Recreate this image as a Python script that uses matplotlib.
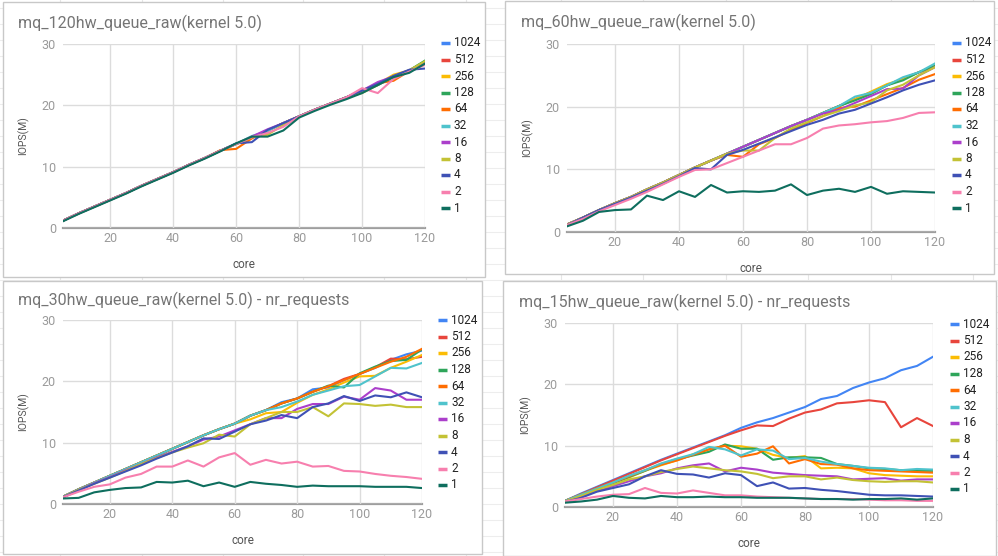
import matplotlib
matplotlib.use("Agg")
import matplotlib.pyplot as plt
from matplotlib.lines import Line2D
from matplotlib.patches import Rectangle

plt.rcParams["font.family"] = ["Roboto", "DejaVu Sans"]

# ── Data ───────────────────────────────────────────────────────────────────
CORES = [5, 10, 15, 20, 25, 30, 35, 40, 45, 50, 55, 60,
         65, 70, 75, 80, 85, 90, 95, 100, 105, 110, 115, 120]
NR_REQUESTS = ["1024", "512", "256", "128", "64", "32", "16", "8", "4", "2", "1"]

# mq_120hw_queue_raw
hw120_1024 = [1.2, 2.4, 3.5, 4.6, 5.7, 6.9, 8.0, 9.1, 10.3, 11.4, 12.6, 13.7, 14.8, 15.9, 17.1, 18.2, 19.3, 20.3, 21.3, 22.4, 23.3, 24.7, 25.7, 26.8]
hw120_512  = [1.2, 2.4, 3.5, 4.6, 5.7, 6.9, 8.0, 9.1, 10.3, 11.4, 12.6, 13.7, 14.8, 15.9, 17.1, 18.2, 19.3, 20.3, 21.3, 22.4, 23.5, 24.7, 25.7, 27.0]
hw120_256  = [1.2, 2.4, 3.5, 4.6, 5.7, 6.9, 8.0, 9.1, 10.3, 11.4, 12.6, 13.7, 14.8, 15.9, 17.1, 18.2, 19.3, 20.3, 21.3, 22.4, 23.5, 25.0, 25.7, 27.2]
hw120_128  = [1.2, 2.4, 3.5, 4.6, 5.7, 6.9, 8.0, 9.1, 10.3, 11.4, 12.6, 13.7, 14.8, 15.9, 17.1, 18.2, 19.3, 20.3, 21.3, 22.4, 23.5, 24.7, 25.7, 27.3]
hw120_64   = [1.2, 2.4, 3.5, 4.6, 5.7, 6.9, 8.0, 9.1, 10.3, 11.4, 12.7, 12.9, 14.6, 15.9, 17.1, 18.2, 19.3, 20.3, 21.3, 22.4, 23.6, 24.0, 25.6, 27.0]
hw120_32   = [1.2, 2.4, 3.5, 4.6, 5.7, 6.9, 8.0, 9.1, 10.3, 11.4, 12.6, 13.7, 15.0, 15.8, 17.1, 18.2, 19.3, 20.3, 21.3, 22.4, 23.5, 24.7, 25.7, 27.0]
hw120_16   = [1.2, 2.4, 3.5, 4.6, 5.7, 6.9, 8.0, 9.1, 10.3, 11.4, 12.6, 13.7, 14.9, 16.1, 17.1, 18.2, 19.3, 20.3, 21.3, 22.4, 23.8, 24.7, 25.7, 27.0]
hw120_8    = [1.2, 2.4, 3.5, 4.6, 5.7, 6.9, 8.0, 9.1, 10.3, 11.4, 12.6, 13.7, 14.8, 15.2, 16.8, 18.2, 19.3, 20.3, 21.3, 22.0, 23.3, 24.7, 25.7, 27.2]
hw120_4    = [1.2, 2.4, 3.5, 4.6, 5.7, 6.9, 8.0, 9.1, 10.3, 11.4, 12.6, 13.8, 14.0, 16.0, 17.1, 18.2, 19.3, 20.3, 21.3, 22.4, 23.5, 24.8, 25.8, 26.0]
hw120_2    = [1.2, 2.4, 3.5, 4.6, 5.7, 6.9, 8.0, 9.1, 10.3, 11.4, 12.6, 13.7, 14.8, 15.5, 16.5, 18.2, 19.3, 20.3, 21.3, 22.8, 22.0, 24.3, 25.5, 26.6]
hw120_1    = [1.1, 2.3, 3.4, 4.5, 5.6, 6.8, 7.9, 9.0, 10.2, 11.3, 12.5, 13.8, 14.9, 14.9, 15.9, 18.0, 19.1, 20.1, 21.0, 22.0, 23.3, 24.6, 25.3, 26.8]

# mq_60hw_queue_raw
hw60_1024 = [1.2, 2.3, 3.5, 4.6, 5.6, 6.8, 7.9, 9.1, 10.3, 11.4, 12.5, 13.6, 14.7, 15.8, 16.9, 17.9, 19.0, 20.1, 21.2, 22.3, 23.4, 24.5, 25.5, 26.6]
hw60_512  = [1.2, 2.3, 3.5, 4.6, 5.6, 6.8, 7.9, 9.1, 10.3, 11.4, 12.5, 13.6, 14.7, 15.8, 16.9, 17.9, 19.0, 20.1, 21.2, 22.3, 23.4, 24.5, 25.5, 26.4]
hw60_256  = [1.2, 2.3, 3.5, 4.6, 5.6, 6.8, 7.9, 9.1, 10.3, 11.4, 12.5, 13.6, 14.7, 15.8, 16.9, 17.9, 19.0, 20.1, 21.2, 22.4, 23.6, 24.4, 25.5, 26.5]
hw60_128  = [1.2, 2.3, 3.5, 4.6, 5.6, 6.8, 7.9, 9.1, 10.3, 11.4, 12.5, 13.6, 14.7, 15.8, 16.9, 17.9, 19.0, 20.1, 21.0, 22.0, 23.4, 24.2, 25.5, 26.5]
hw60_64   = [1.2, 2.3, 3.5, 4.6, 5.6, 6.8, 7.9, 9.1, 10.3, 11.4, 12.3, 12.0, 14.0, 15.0, 16.3, 17.4, 18.5, 19.8, 20.0, 21.0, 22.0, 23.0, 24.3, 25.2]
hw60_32   = [1.2, 2.3, 3.5, 4.6, 5.6, 6.8, 7.9, 9.1, 10.3, 11.4, 12.5, 13.6, 14.7, 15.8, 16.9, 17.9, 19.0, 20.1, 21.6, 22.2, 23.4, 24.7, 25.5, 26.9]
hw60_16   = [1.2, 2.3, 3.5, 4.6, 5.6, 6.8, 7.9, 9.1, 10.3, 11.4, 12.5, 13.6, 14.7, 15.8, 16.9, 17.9, 18.9, 19.5, 20.6, 21.7, 22.8, 22.9, 25.0, 26.3]
hw60_8    = [1.2, 2.3, 3.5, 4.6, 5.6, 6.8, 7.9, 9.1, 10.3, 11.4, 12.5, 13.0, 13.0, 15.0, 16.5, 17.5, 18.5, 19.3, 20.2, 20.7, 22.6, 23.5, 25.0, 26.3]
hw60_4    = [1.1, 2.3, 3.5, 4.5, 5.5, 6.6, 7.7, 8.9, 10.2, 10.0, 12.3, 13.1, 14.1, 15.1, 16.1, 17.1, 17.9, 18.9, 19.5, 20.5, 21.5, 22.6, 23.5, 24.2]
hw60_2    = [1.1, 2.1, 3.3, 4.3, 5.3, 6.4, 7.6, 8.8, 9.9, 10.0, 11.0, 12.0, 13.0, 14.0, 14.0, 15.0, 16.5, 17.0, 17.2, 17.5, 17.7, 18.2, 19.0, 19.1]
hw60_1    = [0.9, 1.8, 3.2, 3.5, 3.6, 5.8, 5.1, 6.5, 5.6, 7.5, 6.3, 6.5, 6.4, 6.6, 7.6, 5.9, 6.6, 6.9, 6.4, 7.2, 6.1, 6.5, 6.4, 6.3]

# mq_30hw_queue_raw - nr_requests
hw30_1024 = [1.2, 2.4, 3.5, 4.6, 5.7, 6.8, 7.9, 9.0, 10.1, 11.2, 12.2, 13.1, 14.4, 15.3, 16.6, 17.2, 18.7, 19.0, 20.2, 21.2, 22.2, 23.5, 24.4, 25.0]
hw30_512  = [1.2, 2.4, 3.5, 4.6, 5.7, 6.8, 7.9, 9.0, 10.1, 11.2, 12.2, 13.1, 14.4, 15.3, 16.4, 17.2, 18.3, 19.2, 20.4, 21.2, 22.3, 23.7, 23.6, 24.0]
hw30_256  = [1.2, 2.4, 3.5, 4.6, 5.7, 6.8, 7.9, 9.0, 10.1, 11.2, 12.2, 13.1, 13.8, 14.8, 15.0, 16.5, 17.8, 18.7, 19.8, 20.8, 20.9, 22.2, 23.2, 24.3]
hw30_128  = [1.2, 2.4, 3.5, 4.6, 5.7, 6.8, 7.9, 9.0, 10.1, 11.2, 12.2, 13.1, 14.4, 15.3, 16.4, 17.2, 18.3, 19.3, 19.0, 21.3, 22.4, 23.3, 23.5, 25.2]
hw30_64   = [1.2, 2.4, 3.5, 4.6, 5.7, 6.8, 7.9, 9.0, 10.1, 11.2, 12.2, 13.1, 14.4, 15.3, 16.4, 17.2, 18.3, 19.2, 20.2, 21.2, 22.2, 23.2, 24.0, 25.3]
hw30_32   = [1.2, 2.4, 3.5, 4.6, 5.7, 6.8, 7.9, 9.0, 10.1, 11.2, 12.2, 13.1, 14.4, 15.3, 15.8, 16.7, 17.8, 18.5, 19.2, 19.4, 20.8, 22.2, 22.1, 23.0]
hw30_16   = [1.1, 2.3, 3.4, 4.4, 5.5, 6.5, 7.6, 8.5, 9.4, 10.5, 11.0, 12.0, 13.0, 14.0, 14.0, 15.5, 16.3, 16.3, 17.5, 17.0, 18.9, 18.5, 17.0, 17.0]
hw30_8    = [1.1, 2.3, 3.3, 4.3, 5.4, 6.5, 7.5, 8.4, 9.2, 9.9, 11.3, 11.0, 13.0, 14.0, 15.0, 15.0, 15.8, 14.3, 16.4, 16.3, 16.0, 16.2, 15.8, 15.8]
hw30_4    = [1.1, 2.2, 3.3, 4.3, 5.3, 6.3, 7.4, 8.4, 9.4, 10.7, 10.6, 11.8, 13.0, 13.6, 14.5, 14.0, 15.8, 16.4, 17.6, 16.8, 17.7, 17.4, 18.2, 17.4]
hw30_2    = [1.1, 2.0, 2.8, 3.2, 4.3, 4.9, 6.1, 6.1, 7.1, 6.1, 7.6, 8.3, 6.4, 7.2, 6.6, 6.9, 6.1, 6.2, 5.4, 5.3, 4.9, 4.6, 4.4, 4.1]
hw30_1    = [0.9, 1.0, 1.9, 2.3, 2.6, 2.7, 3.6, 3.5, 3.8, 2.9, 3.5, 2.8, 3.6, 3.3, 3.1, 2.8, 3.0, 2.9, 2.9, 2.9, 2.8, 2.8, 2.8, 2.6]

# mq_15hw_queue_raw - nr_requests
hw15_1024 = [1.0, 2.2, 3.3, 4.4, 5.5, 6.6, 7.7, 8.7, 9.7, 10.7, 11.7, 12.9, 13.8, 14.5, 15.4, 16.3, 17.6, 18.1, 19.4, 20.3, 21.0, 22.3, 23.0, 24.5]
hw15_512  = [1.0, 2.1, 3.2, 4.3, 5.4, 6.5, 7.6, 8.6, 9.6, 10.6, 11.6, 12.5, 13.3, 13.2, 14.4, 15.4, 15.9, 16.9, 17.1, 17.4, 17.1, 13.0, 14.5, 13.2]
hw15_256  = [1.0, 2.0, 3.0, 3.9, 4.8, 5.9, 6.8, 7.6, 8.6, 9.4, 10.0, 9.9, 9.5, 8.5, 8.0, 8.3, 6.3, 6.4, 6.3, 5.5, 5.2, 5.1, 5.0, 5.0]
hw15_128  = [1.0, 2.0, 3.0, 3.9, 4.9, 5.9, 7.0, 7.8, 8.4, 9.0, 10.2, 9.5, 9.5, 7.7, 8.1, 8.1, 8.0, 7.0, 6.7, 6.3, 6.2, 6.0, 5.9, 5.9]
hw15_64   = [1.0, 2.0, 3.0, 4.0, 5.0, 6.0, 6.9, 7.6, 8.5, 9.4, 10.0, 8.2, 8.7, 9.9, 7.1, 7.8, 7.0, 6.9, 6.3, 6.0, 5.9, 5.8, 5.7, 5.6]
hw15_32   = [1.0, 2.0, 3.0, 4.0, 5.1, 6.0, 7.1, 7.9, 8.6, 9.8, 9.4, 8.4, 9.4, 9.2, 7.8, 8.0, 7.4, 7.0, 6.7, 6.4, 6.3, 6.0, 6.2, 6.1]
hw15_16   = [0.9, 1.7, 2.6, 3.4, 4.2, 5.0, 5.5, 6.3, 6.8, 7.1, 5.8, 6.4, 6.1, 5.6, 5.4, 5.2, 5.1, 5.0, 4.5, 4.6, 4.7, 4.3, 4.5, 4.5]
hw15_8    = [0.9, 1.8, 2.8, 3.6, 4.5, 5.0, 5.7, 6.2, 6.6, 6.3, 6.0, 5.8, 5.4, 4.7, 5.0, 5.0, 4.5, 4.8, 4.4, 4.2, 4.1, 4.2, 4.2, 4.0]
hw15_4    = [0.8, 1.5, 2.5, 3.1, 3.7, 5.0, 6.0, 5.4, 5.3, 4.8, 5.5, 5.2, 3.4, 4.0, 3.0, 3.1, 2.8, 2.6, 2.3, 2.0, 1.9, 1.9, 1.8, 1.7]
hw15_2    = [0.9, 1.3, 1.7, 2.0, 2.1, 3.1, 2.3, 2.2, 2.7, 2.3, 1.9, 1.9, 1.7, 1.6, 1.5, 1.4, 1.3, 1.3, 1.3, 1.2, 1.1, 1.1, 1.0, 1.0]
hw15_1    = [0.7, 0.9, 1.2, 1.8, 1.5, 1.4, 1.8, 1.6, 1.6, 1.7, 1.6, 1.6, 1.5, 1.5, 1.5, 1.4, 1.3, 1.3, 1.2, 1.3, 1.3, 1.4, 1.2, 1.4]

COLORS = ["#4285F4", "#E8453C", "#FBBC04", "#2EA55A", "#FF6D01", "#4FC3CC",
          "#AB3FCB", "#C3C235", "#3F51B5", "#F77FAE", "#0E6E5E"]

# ── Layout (pixel boxes of the screenshot) ─────────────────────────────────
W, H = 998, 556


def fx(px):
    return px / W


def fy(py):
    return 1.0 - py / H


PANELS = [
    dict(title="mq_120hw_queue_raw(kernel 5.0)",
         series=[hw120_1024, hw120_512, hw120_256, hw120_128, hw120_64, hw120_32,
                 hw120_16, hw120_8, hw120_4, hw120_2, hw120_1],
         box=(3, 2, 485, 277), axes=(63, 44, 425, 228), title_xy=(18, 23), leg_x=441, leg_y=43),
    dict(title="mq_60hw_queue_raw(kernel 5.0)",
         series=[hw60_1024, hw60_512, hw60_256, hw60_128, hw60_64, hw60_32,
                 hw60_16, hw60_8, hw60_4, hw60_2, hw60_1],
         box=(505, 1, 994, 274), axes=(567, 44, 935, 232), title_xy=(521, 22), leg_x=952, leg_y=43),
    dict(title="mq_30hw_queue_raw(kernel 5.0) - nr_requests",
         series=[hw30_1024, hw30_512, hw30_256, hw30_128, hw30_64, hw30_32,
                 hw30_16, hw30_8, hw30_4, hw30_2, hw30_1],
         box=(3, 281, 482, 554), axes=(63, 320, 422, 504), title_xy=(18, 300), leg_x=438, leg_y=320),
    dict(title="mq_15hw_queue_raw(kernel 5.0) - nr_requests",
         series=[hw15_1024, hw15_512, hw15_256, hw15_128, hw15_64, hw15_32,
                 hw15_16, hw15_8, hw15_4, hw15_2, hw15_1],
         box=(503, 281, 996, 556), axes=(565, 323, 933, 507), title_xy=(519, 302), leg_x=950, leg_y=324),
]

LEG_STEP = 16.5

fig = plt.figure(figsize=(W / 100, H / 100), dpi=100, facecolor="white")

# faint spreadsheet grid behind the charts
bg = fig.add_axes([0, 0, 1, 1], zorder=-10)
bg.set_xlim(0, W)
bg.set_ylim(H, 0)
bg.axis("off")
for cx in [60, 142, 223, 303, 384, 466, 561, 643, 726, 808, 891, 973]:
    bg.axvline(cx, color="#e6e6e6", lw=0.8)
for ry in range(8, H, 16):
    bg.axhline(ry, color="#ededed", lw=0.8)

for p in PANELS:
    x0, y0, x1, y1 = p["box"]
    bg.add_patch(Rectangle((x0, y0), x1 - x0, y1 - y0, facecolor="white",
                           edgecolor="#c8c8c8", lw=1.0, zorder=2))

    l, t, r, b = p["axes"]
    ax = fig.add_axes([fx(l), fy(b), fx(r) - fx(l), (b - t) / H])
    ax.set_facecolor("none")
    for vals, c in zip(p["series"], COLORS):
        ax.plot(CORES, vals, color=c, lw=1.5, solid_joinstyle="round")

    ax.set_xlim(5, 120)
    ax.set_ylim(0, 30)
    ax.set_xticks([20, 40, 60, 80, 100, 120])
    ax.set_yticks([0, 10, 20, 30])
    ax.grid(True, color="#dcdcdc", lw=1.0)
    ax.set_axisbelow(True)
    for s in ["top", "right", "left"]:
        ax.spines[s].set_visible(False)
    ax.spines["bottom"].set_color("#9e9e9e")
    ax.spines["bottom"].set_linewidth(1.6)
    ax.spines["bottom"].set_zorder(0.5)
    ax.tick_params(axis="x", length=0, labelsize=9, labelcolor="#9a9a9a", pad=3)
    ax.tick_params(axis="y", length=0, labelsize=9, labelcolor="#9a9a9a", pad=5)
    ax.set_xlabel("core", fontsize=8.5, color="#555555", labelpad=9)
    ax.set_ylabel("IOPS(M)", fontsize=7.5, color="#555555", labelpad=9)

    tx, ty = p["title_xy"]
    fig.text(fx(tx), fy(ty), p["title"], fontsize=11.5, color="#757575",
             ha="left", va="center")

    for i, (lab, c) in enumerate(zip(NR_REQUESTS, COLORS)):
        yy = p["leg_y"] + i * LEG_STEP
        fig.add_artist(Line2D([fx(p["leg_x"]), fx(p["leg_x"] + 9)], [fy(yy), fy(yy)],
                              color=c, lw=2.5, solid_capstyle="butt"))
        fig.text(fx(p["leg_x"] + 13), fy(yy), lab, fontsize=8.5, color="#222222",
                 ha="left", va="center")

fig.savefig("out.png", dpi=100, facecolor="white")
